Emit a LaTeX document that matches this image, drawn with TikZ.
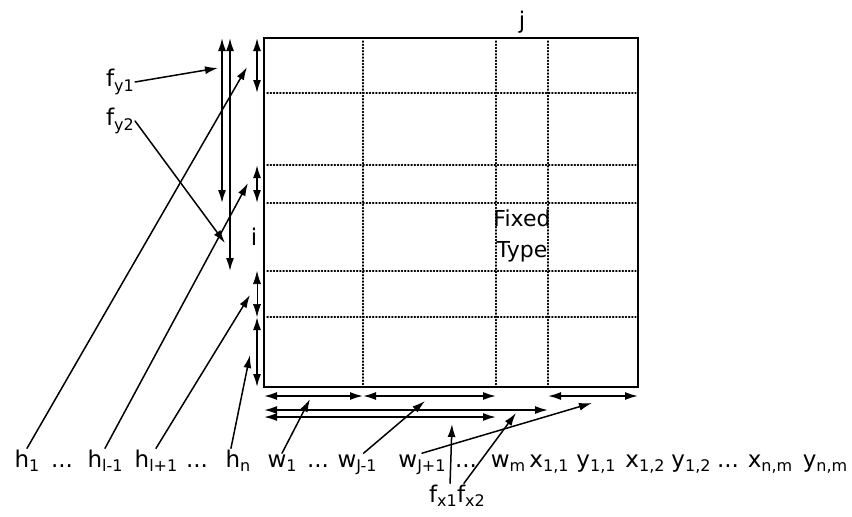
\documentclass[tikz,border=0pt]{standalone}
\usepackage{fontspec}
\setmainfont{DejaVu Sans}
\usetikzlibrary{arrows.meta}
\newcommand{\xia}[1]{\raisebox{-.2em}{\fontsize{16}{16}\selectfont #1}}

\begin{document}
\begin{tikzpicture}[x=1pt,y=-1pt,line cap=round,>={Latex[length=13pt,width=8pt]}]
	\tikzstyle{wenzi}=[inner sep=1pt,font=\fontsize{23}{26}\selectfont];
	\tikzstyle{hang}=[wenzi,anchor=base];
	\tikzstyle{xuxian}=[dotted,line width=1.2pt];
	\tikzstyle{chi}=[<->,line width=1.7pt];
	\tikzstyle{zhi}=[->,line width=1.5pt];
	\useasboundingbox (0,0) rectangle (852,517);
	%% grid
	\foreach \x in {363,496,548} \draw[xuxian] (\x,41) -- (\x,385);
	\foreach \y in {93,165,203,271,317} \draw[xuxian] (267,\y) -- (636,\y);
	\draw[line width=1.6pt] (264,38) rectangle (638,387);
	\node[wenzi] (j) at (522,22) {j};
	\node[wenzi] (i) at (254,237) {i};
	\node[wenzi,align=center,font=\fontsize{22}{31}\selectfont] (fixed) at (522,236) {Fixed\\Type};
	%% dimension arrows
	\foreach \n/\y in {0/38,1/93,2/165,3/203,4/271,5/317,6/387} {
		\coordinate (a\n) at (257,\y);
	}
	\coordinate (b0) at (222,38);  \coordinate (b1) at (222,203);
	\coordinate (c0) at (230,38);  \coordinate (c1) at (230,271);
	\foreach \n/\x in {0/264,1/363,2/496,3/548,4/638} {
		\coordinate (r\n) at (\x,396);
		\coordinate (s\n) at (\x,410);
		\coordinate (u\n) at (\x,417);
	}
	\draw (a0) edge[chi] (a1);
	\draw (a2) edge[chi] (a3);
	\draw (a4) edge[chi,line width=.6pt] (a5);
	\draw (a5) edge[chi] (a6);
	\draw (b0) edge[chi] (b1);
	\draw (c0) edge[chi] (c1);
	\draw (r0) edge[chi] (r1);
	\draw (r1) edge[chi] (r2);
	\draw (r3) edge[chi] (r4);
	\draw (s0) edge[chi] (s3);
	\draw (u0) edge[chi] (u2);
	%% labels
	\node[wenzi] (fy1) at (120,82)  {f\xia{y1}};
	\node[wenzi] (fy2) at (120,121) {f\xia{y2}};
	\node[hang] (h1)  at (27,467)  {h\xia{1}};
	\node[hang] (d1)  at (62,467)  {...};
	\node[hang] (hlm) at (105,467) {h\xia{l-1}};
	\node[hang] (hlp) at (156,467) {h\xia{l+1}};
	\node[hang] (d2)  at (197,467) {...};
	\node[hang] (hn)  at (238,467) {h\xia{n}};
	\node[hang] (w1)  at (282,467) {w\xia{1}};
	\node[hang] (d3)  at (318,467) {...};
	\node[hang] (wjm) at (357,467) {w\xia{J-1}};
	\node[hang] (wjp) at (422,467) {w\xia{J+1}};
	\node[hang] (d4)  at (466,467) {...};
	\node[hang] (wm)  at (508,467) {w\xia{m}};
	\node[hang] (x11) at (549,467) {x\xia{1,1}};
	\node[hang] (y11) at (596,467) {y\xia{1,1}};
	\node[hang] (x12) at (645,467) {x\xia{1,2}};
	\node[hang] (y12) at (691,467) {y\xia{1,2}};
	\node[hang] (d5)  at (728,467) {...};
	\node[hang] (xnm) at (770,467) {x\xia{n,m}};
	\node[hang] (ynm) at (825,467) {y\xia{n,m}};
	\node[hang] (fx1) at (443,502) {f\xia{x1}};
	\node[hang] (fx2) at (471,502) {f\xia{x2}};
	%% pointers
	\coordinate (th1)  at (247,67);
	\coordinate (thlm) at (248,183);
	\coordinate (thlp) at (250,295);
	\coordinate (thn)  at (250,355);
	\coordinate (tw1)  at (310,399);
	\coordinate (twjm) at (425,401);
	\coordinate (twjp) at (592,403);
	\coordinate (tfx1) at (452,424);
	\coordinate (tfx2) at (516,413);
	\coordinate (tfy1) at (218,68);
	\coordinate (tfy2) at (225,243);
	\draw (h1.north)  edge[zhi] (th1);
	\draw (hlm.north) edge[zhi] (thlm);
	\draw (hlp.north) edge[zhi] (thlp);
	\draw (hn.120)    edge[zhi] (thn);
	\draw (w1.north)  edge[zhi] (tw1);
	\draw (wjm.60)    edge[zhi] (twjm);
	\draw (wjp.north) edge[zhi] (twjp);
	\draw (fx1.60)    edge[zhi] (tfx1);
	\draw (fx2.120)   edge[zhi] (tfx2);
	\draw (fy1.east)  edge[zhi] (tfy1);
	\draw (fy2.east)  edge[zhi] (tfy2);
\end{tikzpicture}
\end{document}
